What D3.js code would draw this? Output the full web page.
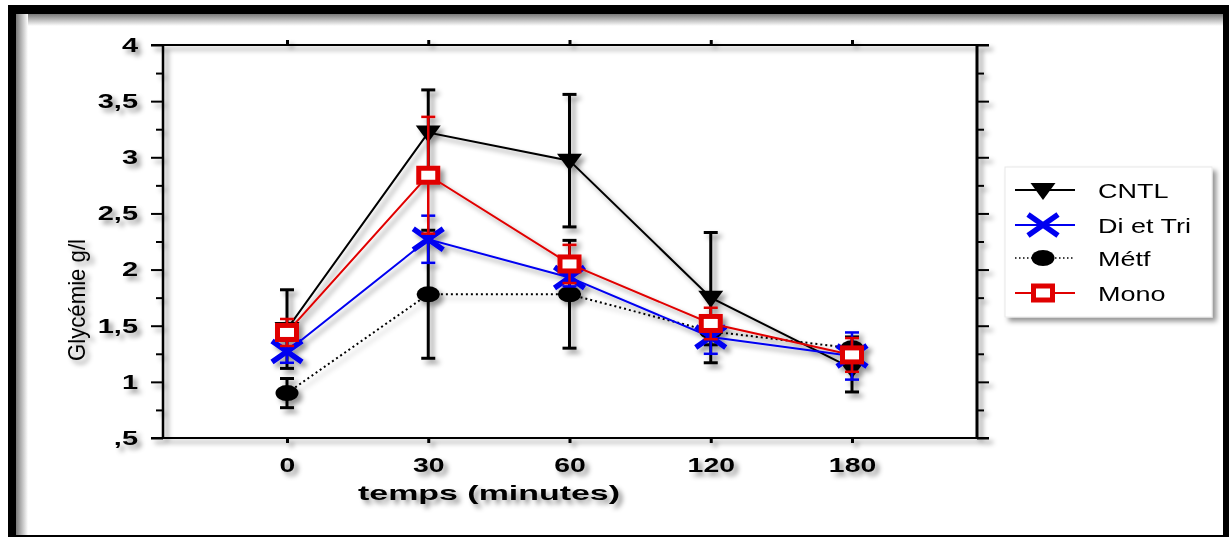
<!DOCTYPE html>
<html>
<head>
<meta charset="utf-8">
<script src="https://cdn.jsdelivr.net/npm/d3@7"></script>
<style>
  html, body { margin: 0; padding: 0; background: #fff; }
  svg { display: block; font-family: "Liberation Sans", Arial, sans-serif; }
</style>
</head>
<body>
<svg id="chart" width="1229" height="537"></svg>
<script>
// Temps de prélèvement (minutes)
const categories = ["0", "30", "60", "120", "180"];

// Glycémie moyenne (g/l) et écart par groupe
const cntlMean  = [1.47, 3.22, 2.97, 1.75, 1.12];
const cntlErr   = [0.35, 0.38, 0.59, 0.58, 0.21];
const diTriMean = [1.27, 2.27, 1.93, 1.40, 1.23];
const diTriErr  = [0.10, 0.21, 0.08, 0.15, 0.21];
const metfMean  = [0.90, 1.78, 1.78, 1.45, 1.30];
const metfErr   = [0.13, 0.57, 0.48, 0.12, 0.10];
const monoMean  = [1.44, 2.84, 2.05, 1.52, 1.24];
const monoErr   = [0.12, 0.52, 0.17, 0.14, 0.15];

const yTicks = [0.5, 1, 1.5, 2, 2.5, 3, 3.5, 4];
const yMinorTicks = [0.75, 1.25, 1.75, 2.25, 2.75, 3.25, 3.75];
const yTickLabels = [",5", "1", "1,5", "2", "2,5", "3", "3,5", "4"];
const seriesNames = ["CNTL", "Di et Tri", "Métf", "Mono"];

const svg = d3.select("#chart");
const W = 1229, H = 537;

// ---- filters / gradients ----
const defs = svg.append("defs");
const sh = defs.append("filter").attr("id", "shadow")
  .attr("x", "-10%").attr("y", "-10%").attr("width", "130%").attr("height", "130%");
sh.append("feDropShadow").attr("dx", 4).attr("dy", 4).attr("stdDeviation", 2.6)
  .attr("flood-color", "#000").attr("flood-opacity", 0.42);

const gTop = defs.append("linearGradient").attr("id", "gTop").attr("x1", 0).attr("y1", 0).attr("x2", 0).attr("y2", 1);
gTop.append("stop").attr("offset", "0%").attr("stop-color", "#7a7a7a");
gTop.append("stop").attr("offset", "100%").attr("stop-color", "#fff");
const gLeft = defs.append("linearGradient").attr("id", "gLeft").attr("x1", 0).attr("y1", 0).attr("x2", 1).attr("y2", 0);
gLeft.append("stop").attr("offset", "0%").attr("stop-color", "#7a7a7a");
gLeft.append("stop").attr("offset", "100%").attr("stop-color", "#fff");

// ---- outer frame ----
svg.append("rect").attr("x", 0).attr("y", 0).attr("width", W).attr("height", H).attr("fill", "#fff");
svg.append("rect").attr("x", 16).attr("y", 14).attr("width", 1207).attr("height", 12).attr("fill", "url(#gTop)");
svg.append("rect").attr("x", 16).attr("y", 14).attr("width", 12).attr("height", 521).attr("fill", "url(#gLeft)");
svg.append("rect").attr("x", 8).attr("y", 5).attr("width", W - 8).attr("height", 9).attr("fill", "#000");
svg.append("rect").attr("x", 8).attr("y", 5).attr("width", 8).attr("height", H - 5).attr("fill", "#000");
svg.append("rect").attr("x", 1223).attr("y", 5).attr("width", 6).attr("height", H - 5).attr("fill", "#000");
svg.append("rect").attr("x", 8).attr("y", 535).attr("width", W - 8).attr("height", 2).attr("fill", "#000");

// ---- scales ----
const x = d3.scalePoint().domain(categories).range([287, 852]);
const y = d3.scaleLinear().domain([0.5, 4]).range([438, 45]);
const left = 163, right = 977, ext = 12;

const g = svg.append("g").attr("filter", "url(#shadow)");

// horizontally widened text helper
function widen(sel, sx) {
  sel.each(function () {
    const t = d3.select(this);
    const px = +t.attr("x") || 0;
    t.attr("x", px / sx).attr("transform", `scale(${sx},1)`);
  });
}

// ---- left axis ----
const yAxisL = g.append("g").attr("transform", `translate(${left},0)`)
  .call(d3.axisLeft(y).tickValues(yTicks).tickSize(ext).tickPadding(13)
    .tickFormat((d, i) => yTickLabels[i]));
yAxisL.select(".domain").remove();
yAxisL.selectAll("line").attr("stroke", "#000").attr("stroke-width", 2);
yAxisL.selectAll("text").attr("font-size", 20).attr("font-weight", "bold")
  .attr("fill", "#000").attr("font-family", "Liberation Sans, Arial, sans-serif");
widen(yAxisL.selectAll("text"), 1.45);
const yMinorL = g.append("g").attr("transform", `translate(${left},0)`)
  .call(d3.axisLeft(y).tickValues(yMinorTicks).tickSize(7).tickFormat(""));
yMinorL.select(".domain").remove();
yMinorL.selectAll("line").attr("stroke", "#000").attr("stroke-width", 2);

// ---- right axis ----
const yAxisR = g.append("g").attr("transform", `translate(${right},0)`)
  .call(d3.axisRight(y).tickValues(yTicks).tickSize(ext).tickFormat(""));
yAxisR.select(".domain").remove();
yAxisR.selectAll("line").attr("stroke", "#000").attr("stroke-width", 2);
const yMinorR = g.append("g").attr("transform", `translate(${right},0)`)
  .call(d3.axisRight(y).tickValues(yMinorTicks).tickSize(7).tickFormat(""));
yMinorR.select(".domain").remove();
yMinorR.selectAll("line").attr("stroke", "#000").attr("stroke-width", 2);

// ---- bottom / top axes ----
const xAxisB = g.append("g").attr("transform", `translate(0,${y(0.5)})`)
  .call(d3.axisBottom(x).tickSize(5).tickPadding(14));
xAxisB.select(".domain").remove();
xAxisB.selectAll("line").attr("stroke", "#000").attr("stroke-width", 3);
xAxisB.selectAll("text").attr("font-size", 21).attr("font-weight", "bold")
  .attr("fill", "#000").attr("font-family", "Liberation Sans, Arial, sans-serif");
widen(xAxisB.selectAll("text"), 1.35);
const xAxisT = g.append("g").attr("transform", `translate(0,${y(4)})`)
  .call(d3.axisTop(x).tickSize(5).tickFormat(""));
xAxisT.select(".domain").remove();
xAxisT.selectAll("line").attr("stroke", "#000").attr("stroke-width", 3);

// frame lines of the plot
g.append("line").attr("x1", left - ext).attr("x2", right + ext).attr("y1", y(4)).attr("y2", y(4))
  .attr("stroke", "#000").attr("stroke-width", 2);
g.append("line").attr("x1", left - ext).attr("x2", right + ext).attr("y1", y(0.5)).attr("y2", y(0.5))
  .attr("stroke", "#000").attr("stroke-width", 2);
g.append("line").attr("x1", left).attr("x2", left).attr("y1", y(4)).attr("y2", y(0.5))
  .attr("stroke", "#000").attr("stroke-width", 2.5);
g.append("line").attr("x1", right).attr("x2", right).attr("y1", y(4)).attr("y2", y(0.5))
  .attr("stroke", "#000").attr("stroke-width", 3);

// ---- axis titles ----
g.append("text").attr("x", 489).attr("y", 500).attr("text-anchor", "middle")
  .attr("font-size", 21).attr("font-weight", "bold").attr("fill", "#000")
  .attr("textLength", 262).attr("lengthAdjust", "spacingAndGlyphs")
  .text("temps (minutes)");
g.append("text").attr("transform", "translate(85,300) rotate(-90)").attr("text-anchor", "middle")
  .attr("font-size", 24).attr("fill", "#000")
  .attr("textLength", 122).attr("lengthAdjust", "spacingAndGlyphs")
  .text("Glycémie g/l");

// ---- markers ----
const RED = "#e00000", BLUE = "#0000f0";
function drawMarker(sel, type) {
  if (type === "tri") {
    sel.append("path").attr("d", "M-12.5,-7 L12.5,-7 L0,10 Z").attr("fill", "#000");
  } else if (type === "x") {
    sel.append("path").attr("d", "M-15,-10.5 L15,10.5 M-15,10.5 L15,-10.5")
      .attr("stroke", BLUE).attr("stroke-width", 5.5).attr("fill", "none");
  } else if (type === "dot") {
    sel.append("ellipse").attr("rx", 11.5).attr("ry", 8).attr("fill", "#000");
  } else if (type === "sq") {
    sel.append("rect").attr("x", -9.5).attr("y", -7).attr("width", 19).attr("height", 14)
      .attr("fill", "#fff").attr("stroke", RED).attr("stroke-width", 5);
  }
}

const series = [
  { name: seriesNames[0], mean: cntlMean,  err: cntlErr,  color: "#000", lw: 2,   dash: null,  ew: 3,   marker: "tri" },
  { name: seriesNames[2], mean: metfMean,  err: metfErr,  color: "#000", lw: 2,   dash: "2,3", ew: 3,   marker: "dot" },
  { name: seriesNames[1], mean: diTriMean, err: diTriErr, color: BLUE,   lw: 2,   dash: null,  ew: 2.5, marker: "x" },
  { name: seriesNames[3], mean: monoMean,  err: monoErr,  color: RED,    lw: 2,   dash: null,  ew: 2.5, marker: "sq" }
];

const line = d3.line().x(d => x(d.c)).y(d => y(d.v));
const cap = 7;

series.forEach(s => {
  const pts = categories.map((c, i) => ({ c, v: s.mean[i], e: s.err[i] }));
  const sg = g.append("g");
  sg.append("path").datum(pts).attr("d", line).attr("fill", "none")
    .attr("stroke", s.color).attr("stroke-width", s.lw)
    .attr("stroke-dasharray", s.dash);
  const eb = sg.selectAll(".eb").data(pts).join("g").attr("class", "eb")
    .attr("stroke", s.color).attr("stroke-width", s.ew);
  eb.append("line").attr("x1", d => x(d.c)).attr("x2", d => x(d.c))
    .attr("y1", d => y(d.v + d.e)).attr("y2", d => y(d.v - d.e));
  eb.append("line").attr("x1", d => x(d.c) - cap).attr("x2", d => x(d.c) + cap)
    .attr("y1", d => y(d.v + d.e)).attr("y2", d => y(d.v + d.e));
  eb.append("line").attr("x1", d => x(d.c) - cap).attr("x2", d => x(d.c) + cap)
    .attr("y1", d => y(d.v - d.e)).attr("y2", d => y(d.v - d.e));
  sg.selectAll(".mk").data(pts).join("g").attr("class", "mk")
    .attr("transform", d => `translate(${x(d.c)},${y(d.v)})`)
    .each(function () { drawMarker(d3.select(this), s.marker); });
});

// ---- legend ----
const legendOrder = [series[0], series[2], series[1], series[3]];
const lg = svg.append("g").attr("filter", "url(#shadow)");
lg.append("rect").attr("x", 1005).attr("y", 167).attr("width", 207).attr("height", 150)
  .attr("fill", "#fff").attr("stroke", "#e8e8e8").attr("stroke-width", 1);
const rowY = [190, 225, 258, 293];
legendOrder.forEach((s, i) => {
  const row = lg.append("g").attr("transform", `translate(0,${rowY[i]})`);
  row.append("line").attr("x1", 1015).attr("x2", 1075).attr("y1", 0).attr("y2", 0)
    .attr("stroke", s.color).attr("stroke-width", s.dash ? 1.5 : 2)
    .attr("stroke-dasharray", s.dash ? "1.5,2.5" : null);
  const m = row.append("g").attr("transform", "translate(1043,0)");
  drawMarker(m, s.marker);
  const t = row.append("text").attr("x", 1098).attr("y", 7.5)
    .attr("font-size", 20).attr("fill", "#000").text(s.name);
  widen(t, 1.35);
});
</script>
</body>
</html>
